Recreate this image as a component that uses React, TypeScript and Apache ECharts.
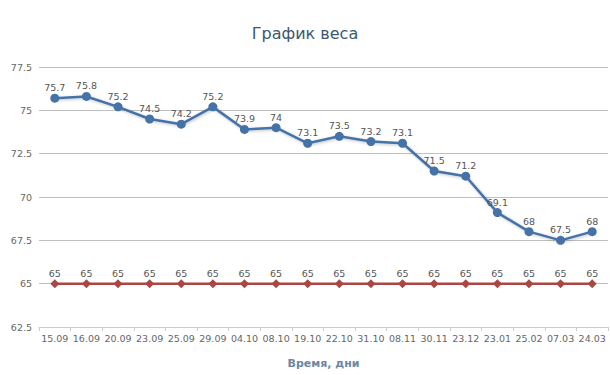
import React, { useEffect, useRef } from "react";
import * as echarts from "echarts";

const categories = ["15.09","16.09","20.09","23.09","25.09","29.09","04.10","08.10","19.10","22.10","31.10","08.11","30.11","23.12","23.01","25.02","07.03","24.03"];
const weight = [75.7, 75.8, 75.2, 74.5, 74.2, 75.2, 73.9, 74, 73.1, 73.5, 73.2, 73.1, 71.5, 71.2, 69.1, 68, 67.5, 68];
const target = [65, 65, 65, 65, 65, 65, 65, 65, 65, 65, 65, 65, 65, 65, 65, 65, 65, 65];
const titleText = "График веса";
const xTitle = "Время, дни";

const FONT = "'DejaVu Sans', Verdana, sans-serif";

export default function App() {
  const ref = useRef<HTMLDivElement>(null);
  useEffect(() => {
    const chart = echarts.init(ref.current!, null, { renderer: "svg" });
    chart.setOption({
      animation: false,
      backgroundColor: "#ffffff",
      title: {
        text: titleText,
        left: "center",
        top: 20,
        textStyle: { fontFamily: FONT, fontSize: 16, fontWeight: "normal", color: "#3e576f" },
      },
      grid: { left: 39, right: 2, top: 67, bottom: 48, containLabel: false },
      xAxis: {
        type: "category",
        data: categories,
        boundaryGap: true,
        name: xTitle,
        nameLocation: "middle",
        nameGap: 31,
        nameTextStyle: { fontFamily: FONT, fontSize: 11, fontWeight: "bold", color: "#6d869f" },
        axisLine: { lineStyle: { color: "#c0d0e0" } },
        axisTick: { show: true, length: 4, lineStyle: { color: "#c0d0e0" } },
        axisLabel: { fontFamily: FONT, fontSize: 9.5, color: "#666666", margin: 6, interval: 0 },
      },
      yAxis: {
        type: "value",
        min: 62.5,
        max: 77.5,
        interval: 2.5,
        axisLine: { show: false },
        axisTick: { show: false },
        axisLabel: { fontFamily: FONT, fontSize: 9.5, color: "#666666", margin: 7 },
        splitLine: { lineStyle: { color: "#c0c0c0", width: 1 } },
      },
      series: [
        {
          type: "line",
          data: target,
          color: "#AA4643",
          symbol: "diamond",
          symbolSize: 9,
          lineStyle: { width: 2.5, color: "#AA4643" },
          itemStyle: { color: "#AA4643" },
          label: { show: true, position: "top", distance: 1, fontFamily: FONT, fontSize: 9.5, color: "#555555" },
          z: 2,
        },
        {
          type: "line",
          data: weight,
          color: "#4572A7",
          symbol: "circle",
          symbolSize: 9,
          lineStyle: { width: 2.5, color: "#4572A7", shadowColor: "rgba(0,0,0,0.25)", shadowBlur: 3, shadowOffsetX: 1, shadowOffsetY: 1 },
          itemStyle: { color: "#4572A7" },
          label: { show: true, position: "top", distance: 1, fontFamily: FONT, fontSize: 9.5, color: "#555555" },
          z: 3,
        },
      ],
    });
    return () => chart.dispose();
  }, []);
  return <div ref={ref} style={{ width: 610, height: 375, position: "absolute", left: 0, top: 0 }} />;
}
